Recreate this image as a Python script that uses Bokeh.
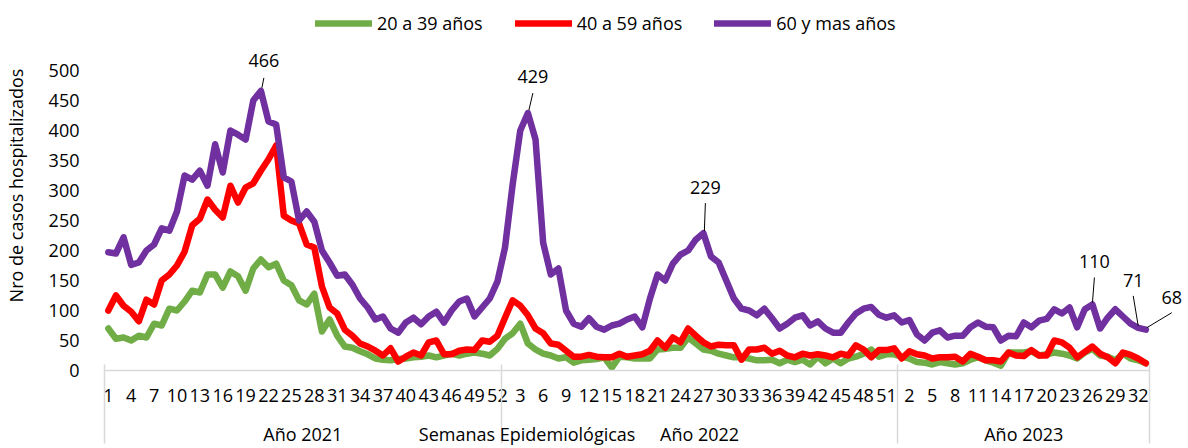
from bokeh.plotting import figure
from bokeh.models import Range1d, FixedTicker, Legend, LegendItem, Label, Arrow, LinearAxis
from bokeh.embed import file_html
from bokeh.resources import INLINE

# ---------------- data ----------------
years = [2021] * 52 + [2022] * 52 + [2023] * 33
weeks = list(range(1, 53)) + list(range(1, 53)) + list(range(1, 34))

g20_39 = [70, 53, 55, 50, 58, 55, 78, 75, 103, 100, 115, 133, 130, 160, 160, 138, 165, 157, 133, 170, 185, 172, 178,
          150, 142, 117, 110, 128, 65, 85, 58, 40, 38, 32, 27, 20, 18, 17, 19, 20, 22, 23, 25, 22, 25, 28,
          25, 28, 30, 28, 25, 36, 53, 62, 78, 45, 35, 28, 25, 20, 22, 13, 17, 18, 19, 22, 5, 23,
          22, 20, 20, 20, 35, 36, 38, 38, 55, 45, 35, 33, 28, 25, 22, 22, 20, 17, 17, 18, 12, 18, 14,
          18, 10, 23, 12, 20, 12, 20, 23, 28, 35, 23, 27, 27, 23, 20, 14, 13, 10, 14, 12, 10, 12, 18,
          22, 17, 13, 8, 30, 30, 30, 32, 25, 27, 30, 28, 25, 20, 30, 36, 25, 23, 17, 28, 20, 17, 12]

r40_59 = [100, 125, 108, 98, 82, 118, 110, 150, 160, 175, 198, 242, 253, 285, 268, 255, 308, 280, 305, 312, 333, 352, 375,
          258, 250, 245, 210, 205, 140, 105, 95, 68, 58, 45, 40, 33, 25, 37, 15, 23, 30, 25, 47, 50, 27, 27,
          33, 35, 34, 50, 48, 58, 88, 117, 108, 92, 70, 62, 45, 43, 33, 23, 23, 26, 23, 22, 22, 28,
          23, 25, 27, 33, 50, 38, 55, 47, 70, 58, 47, 40, 43, 42, 42, 18, 35, 35, 38, 28, 33, 25, 22,
          28, 25, 27, 25, 22, 28, 25, 42, 35, 22, 34, 34, 37, 20, 32, 27, 25, 20, 22, 22, 23, 15, 28,
          23, 17, 17, 15, 30, 25, 24, 34, 25, 25, 50, 47, 38, 22, 31, 40, 28, 22, 12, 30, 26, 20, 12]

p60 = [197, 195, 222, 176, 180, 200, 210, 237, 233, 265, 325, 318, 333, 308, 377, 330, 400, 393, 385, 450, 466, 415, 410,
       322, 315, 250, 265, 248, 200, 180, 158, 160, 143, 120, 105, 85, 90, 70, 63, 80, 88, 77, 90, 98, 80, 100,
       115, 120, 90, 105, 120, 148, 205, 310, 400, 429, 385, 213, 160, 170, 100, 78, 73, 87, 73, 68, 75, 78,
       85, 90, 72, 120, 160, 150, 178, 193, 200, 218, 229, 190, 180, 150, 120, 103, 100, 92, 103, 87, 70, 78, 88,
       92, 75, 82, 70, 63, 63, 80, 95, 103, 106, 93, 88, 92, 80, 84, 60, 50, 63, 67, 55, 58, 58, 72,
       80, 73, 72, 50, 58, 57, 80, 72, 83, 86, 102, 95, 105, 72, 102, 110, 70, 88, 102, 90, 78, 71, 68]

series_names = ["20 a 39 años", "40 a 59 años", "60 y mas años"]
y_ticks = [0, 50, 100, 150, 200, 250, 300, 350, 400, 450, 500]
x_title = "Semanas Epidemiológicas"
labelled_points = [20, 55, 78, 129, 135, 136]   # indices of purple values with data labels

# ---------------- style ----------------
W, H = 1188, 448
BL, BR, BT, BB = 101, 0, 0, 78
FONT = "Open Sans"
FS = "18px"
colors = ["#70AD47", "#FF0000", "#7030A0"]
GRID = "#d9d9d9"
n = len(weeks)
XS = 7.65                 # px per category
Y_TOP = 616.67
frame_h = H - BT - BB
YS = frame_h / Y_TOP      # px per unit
x_end = -0.5 + (W - BL - BR) / XS

S1 = 18        # week label standoff
HA = 21        # measured label box height
T_IN = S1 + HA + 1
T_OUT = BB - S1 - HA
S2 = -22

# label offsets (px): text dx, dy ; leader near dx,dy ; leader far dx,dy
lab_style = {
    20: (3, 30, 1, 3, 3, 13),
    55: (5, 37, 1, 3, 5, 20),
    78: (2, 46, 1, 2, 2, 30),
    129: (2, 43, 0, 2, 2, 27),
    135: (-5, 47, 0, 2, -5, 32),
    136: (26, 32, 1, 2, 26, 17),
}

x = list(range(n))

p = figure(width=W, height=H, x_range=Range1d(-0.5, x_end), y_range=Range1d(0, Y_TOP),
           output_backend="svg", toolbar_location=None, title=None, x_axis_location=None,
           min_border_left=BL, min_border_right=BR, min_border_top=BT, min_border_bottom=BB)
p.outline_line_color = None
p.xgrid.grid_line_color = None
p.ygrid.grid_line_color = None
p.background_fill_color = "white"
p.border_fill_color = "white"

renderers = []
for vals, c in zip([g20_39, r40_59, p60], colors):
    r = p.line(x, vals, line_color=c, line_width=6.5, line_join="round", line_cap="round")
    renderers.append(r)

# y axis
ya = p.yaxis[0]
ya.ticker = FixedTicker(ticks=y_ticks)
ya.axis_line_color = None
ya.major_tick_line_color = None
ya.minor_tick_line_color = None
ya.major_label_standoff = 19
ya.major_label_text_font = FONT
ya.major_label_text_font_size = FS
ya.major_label_text_color = "black"
ya.axis_label = "Nro de casos hospitalizados"
ya.axis_label_text_font = FONT
ya.axis_label_text_font_size = FS
ya.axis_label_text_font_style = "normal"
ya.axis_label_text_color = "black"
ya.axis_label_standoff = 18

# year groups
groups = []
for yv in sorted(set(years)):
    idx = [i for i, yy in enumerate(years) if yy == yv]
    groups.append((yv, idx[0], idx[-1]))
bounds = sorted(set([g[1] - 0.5 for g in groups] + [g[2] + 0.5 for g in groups]))
centers = [(a + b) / 2 for _, a, b in groups]
title_pos = bounds[1] + 3.4

# x axis 1: weeks
tick_idx = list(range(0, n, 3))
xa = LinearAxis(ticker=FixedTicker(ticks=tick_idx, minor_ticks=[]),
                major_label_overrides={i: str(weeks[i]) for i in tick_idx},
                bounds=(-0.5, n - 0.5), axis_line_color=GRID, axis_line_width=1.5,
                major_tick_line_color=None, major_tick_out=0, major_tick_in=0,
                minor_tick_line_color=None, minor_tick_out=0, minor_tick_in=0,
                major_label_standoff=S1, major_label_text_font=FONT,
                major_label_text_font_size=FS, major_label_text_color="black")
p.add_layout(xa, "below")

# x axis 2: year group labels, axis title, and year separators (minor ticks)
grp_overrides = {c: f"Año {g[0]}" for c, g in zip(centers, groups)}
grp_overrides[title_pos] = x_title
ga = LinearAxis(ticker=FixedTicker(ticks=sorted(centers + [title_pos]), minor_ticks=bounds),
                major_label_overrides=grp_overrides,
                axis_line_color=None, major_tick_line_color=None,
                major_tick_out=0, major_tick_in=0,
                minor_tick_line_color=GRID, minor_tick_line_width=1.5,
                minor_tick_in=T_IN, minor_tick_out=T_OUT,
                major_label_standoff=S2, major_label_text_font=FONT,
                major_label_text_font_size=FS, major_label_text_color="black")
p.add_layout(ga, "below")

# data labels
for i in labelled_points:
    tdx, tdy, ndx, ndy, fdx, fdy = lab_style[i]
    v = p60[i]
    p.add_layout(Arrow(end=None, x_start=i + ndx / XS, y_start=v + ndy / YS,
                       x_end=i + fdx / XS, y_end=v + fdy / YS, line_color="black", line_width=1))
    p.add_layout(Label(x=i, y=v, x_offset=tdx, y_offset=tdy, text=str(v), text_font=FONT,
                       text_font_size=FS, text_align="center", text_baseline="middle",
                       text_color="black"))

legend = Legend(items=[LegendItem(label=nm, renderers=[r]) for nm, r in zip(series_names, renderers)],
                orientation="horizontal", location=(312 - BL, 335), padding=0, margin=0,
                spacing=32, glyph_width=57, glyph_height=20, label_height=20, label_standoff=5,
                label_text_font=FONT, label_text_font_size=FS, label_text_color="black",
                border_line_color=None, background_fill_alpha=0)
p.add_layout(legend)

open("out.html", "w").write(file_html(p, INLINE))
